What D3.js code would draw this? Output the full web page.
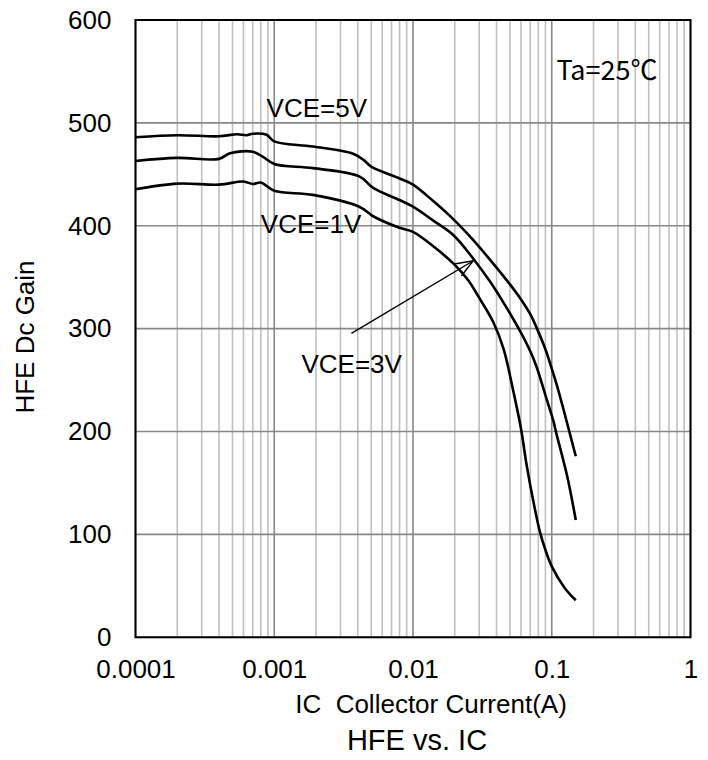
<!DOCTYPE html>
<html>
<head>
<meta charset="utf-8">
<script src="https://cdn.jsdelivr.net/npm/d3@7"></script>
<style>
  body { margin: 0; background: #fff; }
  svg text { font-family: "Liberation Sans", Arial, sans-serif; fill: #000; }
</style>
</head>
<body>
<div id="chart"></div>
<script>
// collector current (A) and gain readings for each VCE curve
const icVce5 = [1e-4, 2e-4, 4e-4, 5.4e-4, 6.3e-4, 7e-4, 8.8e-4, 1e-3, 1.9e-3, 3.7e-3, 4.4e-3, 5e-3, 8e-3, 0.01, 0.014, 0.02, 0.0272, 0.038, 0.05, 0.0589, 0.07, 0.0777, 0.09, 0.0969, 0.11, 0.128, 0.149];
const hfeVce5 = [486, 488, 487, 489, 488, 489.5, 488.5, 482, 477, 470, 464, 457.5, 446, 440, 424, 405, 386, 363, 343, 330, 314, 301, 280, 267, 243, 210, 176];

const icVce3 = [1e-4, 2e-4, 4e-4, 4.8e-4, 7e-4, 8.3e-4, 1e-3, 1.9e-3, 4.1e-3, 5.2e-3, 8e-3, 0.01, 0.014, 0.0195, 0.0272, 0.0358, 0.045, 0.0589, 0.07, 0.0777, 0.0916, 0.1024, 0.108, 0.129, 0.149];
const hfeVce3 = [463, 466, 465, 470.5, 472, 467, 460, 456, 448, 436.5, 425, 418.5, 405, 391, 368, 346, 325, 298, 278, 263, 232, 211, 198, 157, 114];

const icVce1 = [1e-4, 2e-4, 4e-4, 6e-4, 7e-4, 8e-4, 1e-3, 1.9e-3, 4.1e-3, 5.2e-3, 8e-3, 0.01, 0.014, 0.02, 0.025, 0.03, 0.038, 0.045, 0.0527, 0.06, 0.0658, 0.075, 0.082, 0.09, 0.1, 0.124, 0.149];
const hfeVce1 = [435.5, 441, 440, 443, 440.6, 442, 434, 430, 418.5, 409, 398, 394, 380, 362, 347, 330, 306, 280, 240, 203, 168, 127, 103, 85, 69, 48, 36];

const xTicks = [1e-4, 1e-3, 1e-2, 0.1, 1];
const xTickLabels = ["0.0001", "0.001", "0.01", "0.1", "1"];
const yTicks = [0, 100, 200, 300, 400, 500, 600];

const series = [
  { name: "VCE=5V", ic: icVce5, hfe: hfeVce5 },
  { name: "VCE=3V", ic: icVce3, hfe: hfeVce3 },
  { name: "VCE=1V", ic: icVce1, hfe: hfeVce1 }
];

const width = 708, height = 760;
const plotL = 135.5, plotR = 690.5, plotT = 20, plotB = 637.3;

const svg = d3.select("#chart").append("svg")
  .attr("width", width)
  .attr("height", height);

const x = d3.scaleLog().domain([1e-4, 1]).range([plotL, plotR]);
const y = d3.scaleLinear().domain([0, 600]).range([plotB, plotT]);

// minor grid (2..9 in each decade)
const minor = [];
for (let e = -4; e < 0; e++) {
  for (let m = 2; m <= 9; m++) minor.push(m * Math.pow(10, e));
}
svg.append("g").selectAll("line")
  .data(minor)
  .enter().append("line")
  .attr("x1", d => x(d)).attr("x2", d => x(d))
  .attr("y1", plotT).attr("y2", plotB)
  .attr("stroke", "#c0c0c0")
  .attr("stroke-width", 1.6);

// major grid
svg.append("g").selectAll("line")
  .data(xTicks)
  .enter().append("line")
  .attr("x1", d => x(d)).attr("x2", d => x(d))
  .attr("y1", plotT).attr("y2", plotB)
  .attr("stroke", "#888")
  .attr("stroke-width", 1.6);

svg.append("g").selectAll("line")
  .data(yTicks)
  .enter().append("line")
  .attr("x1", plotL).attr("x2", plotR)
  .attr("y1", d => y(d)).attr("y2", d => y(d))
  .attr("stroke", "#888")
  .attr("stroke-width", 1.6);

// frame
svg.append("rect")
  .attr("x", plotL).attr("y", plotT)
  .attr("width", plotR - plotL).attr("height", plotB - plotT)
  .attr("fill", "none")
  .attr("stroke", "#000")
  .attr("stroke-width", 2);

// axes (labels only)
const xAxis = svg.append("g")
  .attr("transform", `translate(0,${plotB})`)
  .call(d3.axisBottom(x).tickValues(xTicks)
    .tickFormat((d, i) => xTickLabels[i])
    .tickSize(0).tickPadding(22));
const yAxis = svg.append("g")
  .attr("transform", `translate(${plotL},0)`)
  .call(d3.axisLeft(y).tickValues(yTicks).tickSize(0).tickPadding(24));
[xAxis, yAxis].forEach(a => {
  a.select(".domain").remove();
  a.selectAll("text")
    .attr("font-size", 26)
    .attr("font-family", "'Liberation Sans', Arial, sans-serif")
    .attr("fill", "#000");
});

// curves
const line = d3.line()
  .x(d => x(d[0]))
  .y(d => y(d[1]))
  .curve(d3.curveCatmullRom.alpha(0.5));

svg.append("g").selectAll("path")
  .data(series)
  .enter().append("path")
  .attr("d", s => line(s.ic.map((v, i) => [v, s.hfe[i]])))
  .attr("fill", "none")
  .attr("stroke", "#000")
  .attr("stroke-width", 2.6)
  .attr("stroke-linejoin", "round");

// arrow for VCE=3V
svg.append("defs").append("marker")
  .attr("id", "head")
  .attr("markerUnits", "userSpaceOnUse")
  .attr("viewBox", "-20 -10 22 20")
  .attr("refX", 0).attr("refY", 0)
  .attr("markerWidth", 22).attr("markerHeight", 20)
  .attr("orient", "auto")
  .append("path")
  .attr("d", "M-18,-7 L0,0 L-18,7")
  .attr("fill", "none")
  .attr("stroke", "#000")
  .attr("stroke-width", 1.4);

svg.append("line")
  .attr("x1", x(3.6e-3)).attr("y1", y(295.5))
  .attr("x2", x(0.0272)).attr("y2", y(366))
  .attr("stroke", "#000")
  .attr("stroke-width", 1.4)
  .attr("marker-end", "url(#head)");

// curve labels
const labels = [
  { text: "VCE=5V", ic: 8.8e-4, v: 506 },
  { text: "VCE=1V", ic: 8.0e-4, v: 392.7 },
  { text: "VCE=3V", ic: 1.57e-3, v: 256.6 }
];
svg.append("g").selectAll("text")
  .data(labels)
  .enter().append("text")
  .attr("x", d => x(d.ic))
  .attr("y", d => y(d.v))
  .attr("font-size", 26)
  .text(d => d.text);

svg.append("text")
  .attr("x", x(0.108)).attr("y", y(541.7))
  .attr("font-size", 27)
  .style("font-family", "'Noto Sans CJK JP', 'Noto Sans', sans-serif")
  .text("Ta=25℃");

// titles
svg.append("text")
  .attr("x", 431).attr("y", 713)
  .attr("text-anchor", "middle")
  .attr("font-size", 26)
  .style("white-space", "pre")
  .text("IC  Collector Current(A)");

svg.append("text")
  .attr("x", 417).attr("y", 750)
  .attr("text-anchor", "middle")
  .attr("font-size", 29)
  .text("HFE vs. IC");

svg.append("text")
  .attr("transform", "translate(34,337) rotate(-90)")
  .attr("text-anchor", "middle")
  .attr("font-size", 26)
  .text("HFE Dc Gain");
</script>
</body>
</html>
